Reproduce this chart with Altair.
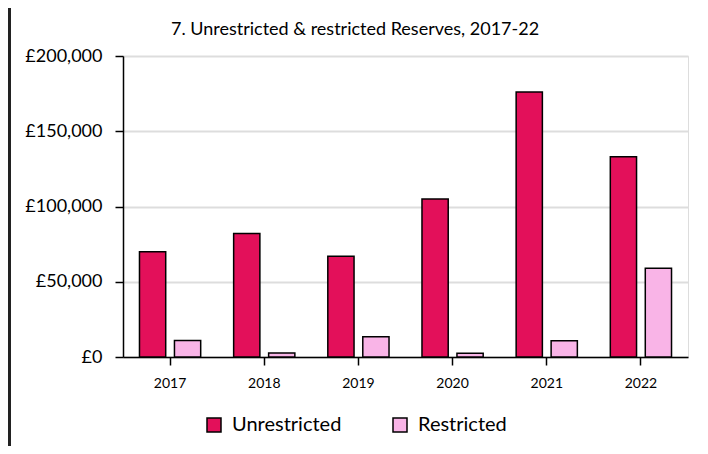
import altair as alt
import pandas as pd

years = ["2017", "2018", "2019", "2020", "2021", "2022"]
unrestricted = [70000, 82000, 67000, 105000, 176000, 133000]
restricted = [11000, 2700, 13500, 2500, 10800, 59000]
series = ["Unrestricted", "Restricted"]
colors = ["#e3105a", "#f9b4e7"]
title_text = "7. Unrestricted & restricted Reserves, 2017-22"

rows = []
for i, y in enumerate(years):
    rows.append({"Year": y, "Type": series[0], "Value": unrestricted[i]})
    rows.append({"Year": y, "Type": series[1], "Value": restricted[i]})
df = pd.DataFrame(rows)
tdf = pd.DataFrame({"t": [title_text]})

FONT = "Lato"

bars = alt.Chart(df).mark_bar(stroke="black", strokeWidth=1.5).encode(
    x=alt.X("Year:N", sort=years, title=None,
            scale=alt.Scale(paddingInner=0.35, paddingOuter=0.175),
            axis=alt.Axis(labelAngle=0, labelFontSize=14, labelFont=FONT, labelColor="black",
                          domainColor="black", domainWidth=1.5, tickColor="black",
                          tickSize=8, tickWidth=1.5, labelPadding=11, grid=False)),
    xOffset=alt.XOffset("Type:N", sort=series, scale=alt.Scale(paddingInner=0.25)),
    y=alt.Y("Value:Q", title=None,
            scale=alt.Scale(domain=[0, 200000]),
            axis=alt.Axis(values=[0, 50000, 100000, 150000, 200000],
                          labelExpr="'£' + format(datum.value, ',')",
                          labelFontSize=18, labelFont=FONT, labelColor="black",
                          domainColor="black", domainWidth=1.5, tickColor="black",
                          tickSize=8, tickWidth=1.5, labelPadding=13,
                          gridColor="#dddddd", gridWidth=2)),
    color=alt.Color("Type:N", sort=series,
                    scale=alt.Scale(domain=series, range=colors),
                    legend=alt.Legend(title=None, orient="none", direction="horizontal",
                                      legendX=81, legendY=359, labelFontSize=20,
                                      labelFont=FONT, labelColor="black",
                                      symbolType="square", symbolSize=196,
                                      symbolStrokeColor="black", symbolStrokeWidth=1.5,
                                      columnPadding=48, labelOffset=8, padding=0)),
)

title = alt.Chart(tdf).mark_text(font=FONT, fontSize=18, color="black",
                                 align="center", baseline="middle").encode(
    text="t:N", x=alt.value(232), y=alt.value(-26))

frame_left = alt.Chart(tdf).mark_rect(color="#222222").encode(
    x=alt.value(-115), x2=alt.value(-112), y=alt.value(-48), y2=alt.value(390))

chart = alt.layer(bars, title, frame_left).properties(
    width=565, height=301,
    autosize=alt.AutoSizeParams(type="none"),
    padding={"left": 115, "top": 48, "right": 12, "bottom": 89},
).configure_view(stroke=None).configure(background="white")

chart.save("out.html", embed_options={"renderer": "svg", "actions": False})
